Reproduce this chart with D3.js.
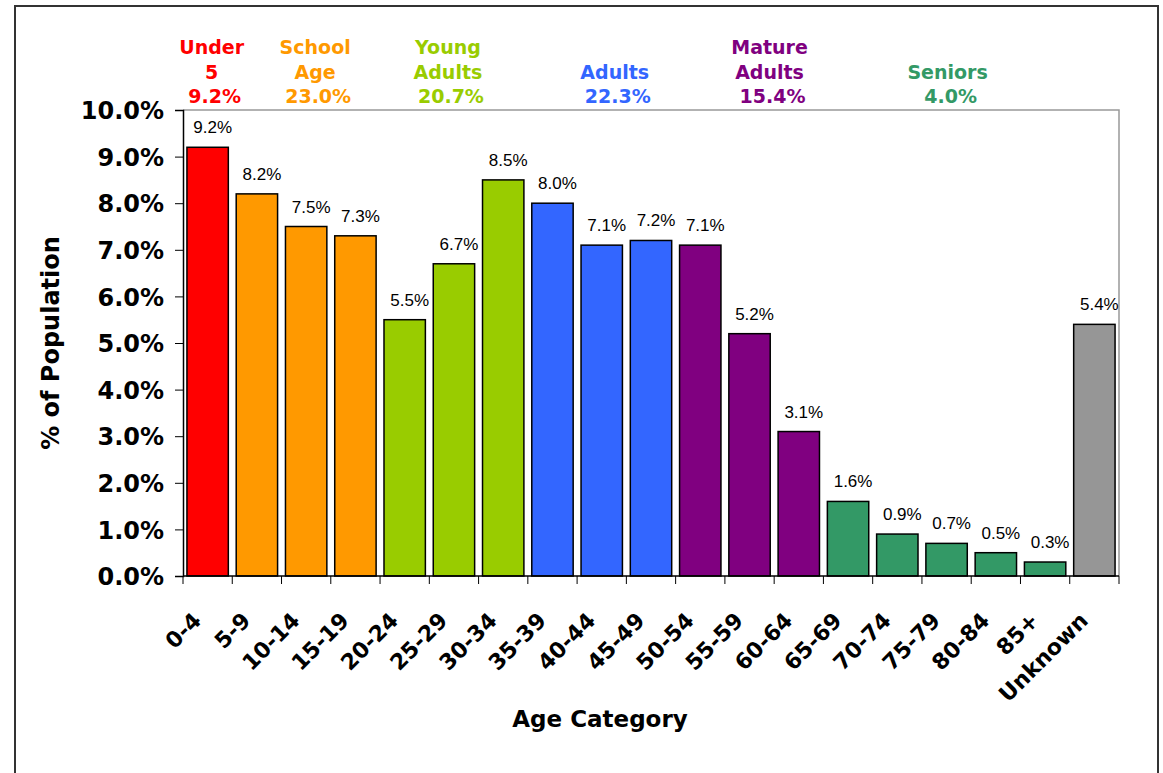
<!DOCTYPE html>
<meta charset="utf-8">
<style>
body { margin: 0; background: #fff; }
.tick text { fill: #000; }
</style>
<body>
<svg id="chart" width="1163" height="773"></svg>
</body>
<script src="https://d3js.org/d3.v7.min.js"></script>
<script>

// age categories and share of population (%)
var categories = ["0-4", "5-9", "10-14", "15-19", "20-24", "25-29", "30-34", "35-39", "40-44",
  "45-49", "50-54", "55-59", "60-64", "65-69", "70-74", "75-79", "80-84", "85+", "Unknown"];
var values = [9.2, 8.2, 7.5, 7.3, 5.5, 6.7, 8.5, 8.0, 7.1, 7.2, 7.1, 5.2, 3.1, 1.6, 0.9, 0.7, 0.5, 0.3, 5.4];

// age groups shown above the plot
var groupNames = [["Under", "5"], ["School", "Age"], ["Young", "Adults"], ["Adults"], ["Mature", "Adults"], ["Seniors"]];
var groupTotals = ["9.2%", "23.0%", "20.7%", "22.3%", "15.4%", "4.0%"];
var groupFirst = [0, 1, 4, 7, 10, 13];
var groupLast = [0, 3, 6, 9, 12, 17];
var groupColors = ["#FF0000", "#FF9900", "#99CC00", "#3366FF", "#800080", "#339966"];
var unknownColor = "#969696";

var yTicks = [0, 1, 2, 3, 4, 5, 6, 7, 8, 9, 10];

// layout: plot area and hand-placed nudges of the group captions
var margin = {top: 110, left: 183},
    width = 1119 - 183,
    height = 576 - 110;
var groupNudge = [4, 9, -6, 13, 20, 1];

var svg = d3.select("#chart");

// outer frame
svg.append("rect")
    .attr("x", 15).attr("y", 6)
    .attr("width", 1143).attr("height", 800)
    .attr("fill", "none")
    .attr("stroke", "#333")
    .attr("stroke-width", 2);

var g = svg.append("g")
    .attr("transform", "translate(" + margin.left + "," + margin.top + ")");

var x = d3.scaleBand().domain(categories).range([0, width]).paddingInner(0.16).paddingOuter(0.08);
var xb = d3.scaleBand().domain(categories).range([0, width]);
var y = d3.scaleLinear().domain([0, 10]).range([height, 0]);

function colorOf(i) {
  for (var k = 0; k < groupFirst.length; k++) {
    if (i >= groupFirst[k] && i <= groupLast[k]) return groupColors[k];
  }
  return unknownColor;
}

// plot area border (top + right, grey)
g.append("path")
    .attr("d", "M0,0H" + width + "V" + height)
    .attr("fill", "none")
    .attr("stroke", "#999")
    .attr("stroke-width", 1.5);

// bars
g.selectAll(".bar")
  .data(values)
  .enter().append("rect")
    .attr("class", "bar")
    .attr("x", function(d, i) { return x(categories[i]); })
    .attr("y", function(d) { return y(d); })
    .attr("width", x.bandwidth())
    .attr("height", function(d) { return height - y(d); })
    .attr("fill", function(d, i) { return colorOf(i); })
    .attr("stroke", "#000")
    .attr("stroke-width", 1.5);

// value labels
g.selectAll(".val")
  .data(values)
  .enter().append("text")
    .attr("class", "val")
    .attr("x", function(d, i) { return xb(categories[i]) + xb.bandwidth() / 2 + 5; })
    .attr("y", function(d) { return y(d) - 14; })
    .attr("text-anchor", "middle")
    .style("font-family", "'Liberation Sans', Arial, sans-serif")
    .style("font-size", "17px")
    .text(function(d) { return d.toFixed(1) + "%"; });

// y axis
var yAxis = g.append("g")
    .call(d3.axisLeft(y).tickValues(yTicks).tickSize(8).tickPadding(11)
      .tickFormat(function(d) { return d.toFixed(1) + "%"; }));
yAxis.select(".domain").attr("stroke", "#000").attr("stroke-width", 1.5);
yAxis.selectAll(".tick line").attr("stroke", "#000");
yAxis.selectAll(".tick text")
    .style("font-family", "'DejaVu Sans', Verdana, sans-serif")
    .style("font-weight", "bold")
    .style("font-size", "24px")
    .attr("dy", "0.36em");

// x axis: ticks at category boundaries
var xAxis = g.append("g").attr("transform", "translate(0," + height + ")");
xAxis.append("path")
    .attr("d", "M0,0H" + width)
    .attr("stroke", "#000")
    .attr("stroke-width", 1.5);
xAxis.selectAll(".xt")
  .data(categories.concat(["end"]))
  .enter().append("line")
    .attr("x1", function(d, i) { return i * xb.step(); })
    .attr("x2", function(d, i) { return i * xb.step(); })
    .attr("y1", 0).attr("y2", 8)
    .attr("stroke", "#000");
xAxis.selectAll(".xl")
  .data(categories)
  .enter().append("text")
    .attr("class", "xl")
    .attr("transform", function(d) {
      return "translate(" + (xb(d) + xb.bandwidth() / 2 - 5) + ",46) rotate(-45)";
    })
    .attr("text-anchor", "end")
    .style("font-family", "'DejaVu Sans', Verdana, sans-serif")
    .style("font-weight", "bold")
    .style("font-size", "22px")
    .text(function(d) { return d; });

// axis titles
svg.append("text")
    .attr("x", 600).attr("y", 727)
    .attr("text-anchor", "middle")
    .style("font-family", "'DejaVu Sans', Verdana, sans-serif")
    .style("font-weight", "bold")
    .style("font-size", "23px")
    .text("Age Category");

svg.append("text")
    .attr("transform", "translate(59,343) rotate(-90)")
    .attr("text-anchor", "middle")
    .style("font-family", "'DejaVu Sans', Verdana, sans-serif")
    .style("font-weight", "bold")
    .style("font-size", "24px")
    .text("% of Population");

// group captions above the plot
var grp = svg.selectAll(".grp")
  .data(groupNames)
  .enter().append("text")
    .attr("class", "grp")
    .attr("text-anchor", "middle")
    .attr("fill", function(d, i) { return groupColors[i]; })
    .style("font-family", "'DejaVu Sans', Tahoma, sans-serif")
    .style("font-weight", "bold")
    .style("font-size", "19px");

grp.each(function(lines, i) {
  var cx = margin.left + (xb(categories[groupFirst[i]]) + xb(categories[groupLast[i]]) + xb.bandwidth()) / 2 + groupNudge[i];
  var t = d3.select(this);
  var all = lines.concat([groupTotals[i]]);
  all.forEach(function(s, j) {
    t.append("tspan")
      .attr("x", j === all.length - 1 ? cx + 3 : cx)
      .attr("y", 103 - (all.length - 1 - j) * 24.5)
      .text(s);
  });
});

</script>
</html>
